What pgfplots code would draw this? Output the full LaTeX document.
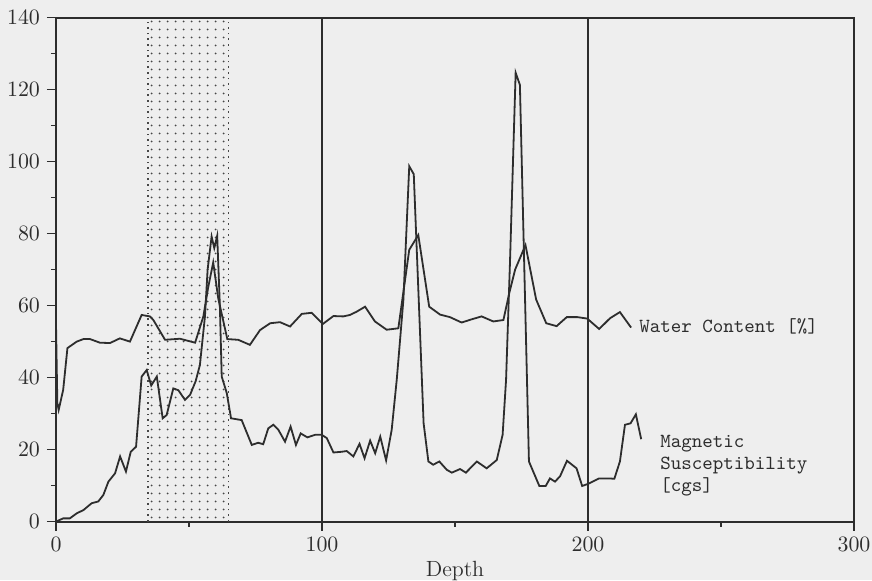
\documentclass[border=0pt]{standalone}
\usepackage{pgfplots}
\pgfplotsset{compat=1.18}
\usetikzlibrary{patterns.meta}
\definecolor{bg}{RGB}{238,238,238}
\definecolor{ln}{RGB}{45,45,45}
\definecolor{dotc}{RGB}{70,70,70}
\begin{document}
\begin{tikzpicture}
\useasboundingbox (-28pt,-29.2pt) rectangle (408pt,260.8pt);
\fill[bg] (-28pt,-29.2pt) rectangle (408pt,260.8pt);
\begin{axis}[
  scale only axis, width=399pt, height=252pt,
  at={(0,0)}, anchor=south west,
  xmin=0, xmax=300, ymin=0, ymax=140,
  xtick={0,100,200,300},
  ytick={0,20,...,140},
  extra x ticks={50,150,250}, extra x tick labels={},
  extra y ticks={10,30,...,130}, extra y tick labels={},
  extra tick style={major tick length=2.5pt, grid=none},
  tick align=outside, tick pos=left,
  major tick length=4.5pt,
  axis line style={ln, line width=0.9pt},
  tick style={ln, line width=0.8pt},
  xmajorgrids, major grid style={ln, line width=0.6pt},
  ticklabel style={font=\fontsize{11}{13}\selectfont, text=ln},
  xlabel={Depth},
  xlabel style={at={(axis description cs:0.5,0)}, anchor=base, yshift=-27.2pt, font=\fontsize{11}{13}\selectfont, text=ln},
]
\addplot[draw=none, pattern={Dots[distance=4pt, radius=0.55pt]}, pattern color=dotc] coordinates {(34.5,140) (64.8,140)} \closedcycle;
\addplot[dotc, dotted, line width=0.8pt] coordinates {(34.5,0) (34.5,140)};
\addplot[dotc, dotted, line width=0.8pt] coordinates {(64.8,0) (64.8,140)};

% Water content
\addplot[ln, line width=0.9pt, mark=none] coordinates {
(0,55) (0.5,33) (1,31) (2.7,36.6) (4.3,48.2) (7.8,50) (10.3,50.7) (12.8,50.7)
(16.5,49.7) (20.3,49.6) (24,50.9) (27.8,50) (32.2,57.4) (35.3,57) (36.6,56)
(41,50.5) (46.6,50.8) (52.3,49.7) (55.4,57) (57.2,65) (59.1,72) (61,62)
(64.4,50.7) (68.5,50.5) (72.9,49.1) (76.7,53.2) (80.5,55.1) (84.2,55.4)
(88,54.2) (92.4,57.7) (96.1,58) (100.3,54.9) (104.3,57.1) (108,57) (110.5,57.4)
(113,58.3) (116.2,59.7) (119.9,55.6) (124.3,53.3) (128.7,53.7) (132.8,75.5)
(136.2,79.6) (140.3,59.7) (144.4,57.5) (148.1,56.8) (152.5,55.3) (156.3,56.2)
(160,57) (164.4,55.6) (168.2,56) (170.5,63.8) (172.6,70) (176.5,76.8)
(180.5,61.7) (184.3,55.1) (188.2,54.3) (192,56.8) (196,56.8) (199.7,56.4)
(204.2,53.5) (208.3,56.5) (212,58.2) (216.2,53.9)
};

% Magnetic susceptibility
\addplot[ln, line width=0.9pt, mark=none] coordinates {
(0,0) (2.7,0.9) (5.2,0.9) (7.8,2.3) (10.3,3.2) (13.4,5.1) (15.9,5.6) (17.8,7.4)
(19.7,11.1) (22.2,13.4) (24.1,18.1) (26.3,13.9) (28.1,19.4) (30.1,20.8)
(32.2,40.3) (34.1,42.1) (35.8,37.8) (37.9,40.3) (40.1,28.7) (41.6,29.6)
(44.1,37) (46,36.5) (48.5,33.8) (50.4,35.2) (52.5,39) (54.1,43.5) (56,57)
(57,70) (58.5,79.2) (59.5,76) (60.6,79.4) (61.6,60) (62.3,40.3) (64.2,35.7)
(65.8,28.7) (69.8,28.2) (73.6,21.3) (76,21.9) (77.9,21.5) (79.8,25.9)
(81.7,26.9) (83.6,25.5) (86.1,22.2) (88.2,26.4) (90.2,21.3) (92,24.5)
(94.5,23.4) (97.4,24.1) (99.9,24.1) (101.8,23.2) (104.3,19.2) (107.4,19.4)
(109.3,19.6) (111.8,18.1) (114.1,21.6) (116,17.6) (118.1,22.5) (120,19)
(121.9,23.6) (124.1,17) (126.2,25.5) (128.1,39.4) (130.6,61.6) (132.8,98.7)
(134.5,96.5) (138.2,27.3) (140,16.7) (141.8,15.8) (144.1,16.7) (146.9,14.4)
(148.8,13.6) (151.9,14.6) (154.1,13.6) (158.2,16.7) (161.9,14.8) (165.7,17.1)
(167.9,24.1) (169.2,39.4) (170.7,72.7) (172.8,124.7) (174.4,121.3)
(177.8,16.7) (181.7,9.9) (184.1,9.9) (185.7,12) (187.6,11.1) (189.5,12.6)
(192.1,16.9) (195.7,14.8) (197.8,9.9) (200.1,10.5) (204.2,12) (207.7,12)
(209.9,11.9) (212,16.7) (213.9,26.9) (216,27.3) (218,29.8) (220,22.9)
};

\node[anchor=west, font=\ttfamily\fontsize{10}{11}\selectfont, text=ln, inner sep=0pt] at (axis cs:219.2,54.1) {Water Content [\%]};
\node[anchor=west, align=left, font=\ttfamily\fontsize{10}{11}\selectfont, text=ln, inner sep=0pt] at (axis cs:227.1,15.6) {Magnetic\\Susceptibility\\{[cgs]}};
\end{axis}
\end{tikzpicture}
\end{document}
